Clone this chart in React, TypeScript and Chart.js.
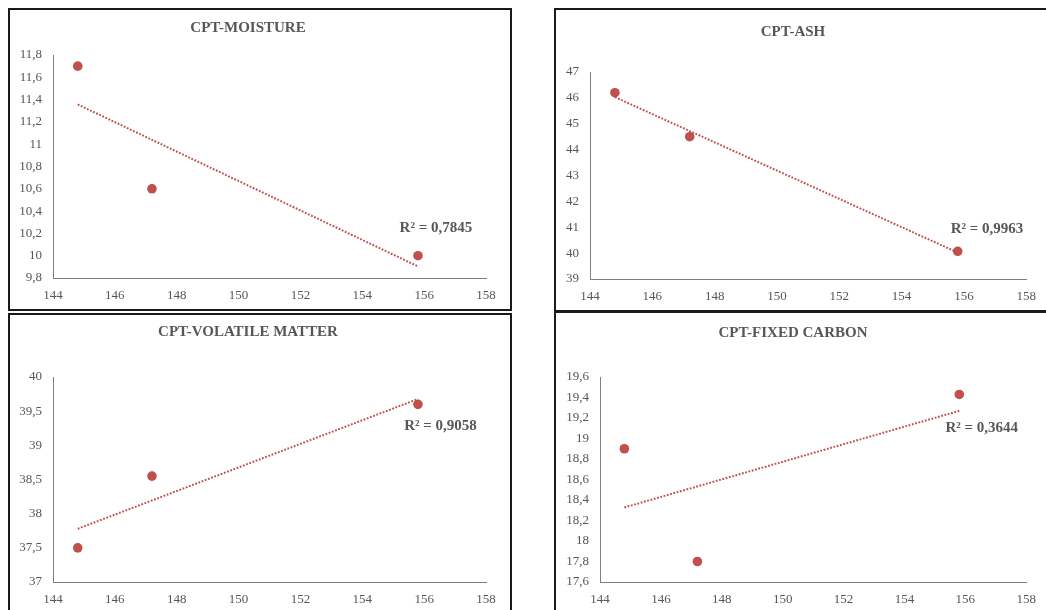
import React, { useEffect, useRef } from "react";
import { Chart, registerables } from "chart.js";

Chart.register(...registerables);

// ---- Data ----
const cptValues = [144.8, 147.2, 155.8];
const moistureValues = [11.7, 10.6, 10.0];
const ashValues = [46.2, 44.5, 40.07];
const volatileValues = [37.5, 38.55, 39.6];
const fixedCarbonValues = [18.9, 17.8, 19.43];

const xTicks = [144, 146, 148, 150, 152, 154, 156, 158];
const moistureYTicks = [9.8, 10, 10.2, 10.4, 10.6, 10.8, 11, 11.2, 11.4, 11.6, 11.8];
const ashYTicks = [39, 40, 41, 42, 43, 44, 45, 46, 47];
const volatileYTicks = [37, 37.5, 38, 38.5, 39, 39.5, 40];
const fixedCarbonYTicks = [17.6, 17.8, 18, 18.2, 18.4, 18.6, 18.8, 19, 19.2, 19.4, 19.6];

const titles = ["CPT-MOISTURE", "CPT-ASH", "CPT-VOLATILE MATTER", "CPT-FIXED CARBON"];
const r2Labels = ["R² = 0,7845", "R² = 0,9963", "R² = 0,9058", "R² = 0,3644"];

// ---- Style ----
const RED = "#c0504d";
const TEXT = "#575757";
const AXIS = "#808080";
const FONT = "'Liberation Serif', 'Times New Roman', serif";

function fmt(v: number): string {
  const s = String(Math.round(v * 1000) / 1000);
  return s.replace(".", ",");
}

function linearFit(xs: number[], ys: number[]) {
  const n = xs.length;
  const mx = xs.reduce((a, b) => a + b, 0) / n;
  const my = ys.reduce((a, b) => a + b, 0) / n;
  let sxy = 0;
  let sxx = 0;
  for (let i = 0; i < n; i++) {
    sxy += (xs[i] - mx) * (ys[i] - my);
    sxx += (xs[i] - mx) * (xs[i] - mx);
  }
  const slope = sxy / sxx;
  const icpt = my - slope * mx;
  const x0 = Math.min(...xs);
  const x1 = Math.max(...xs);
  return [
    { x: x0, y: icpt + slope * x0 },
    { x: x1, y: icpt + slope * x1 },
  ];
}

type PanelSpec = {
  title: string;
  r2: string;
  ys: number[];
  yTicks: number[];
  left: number;
  top: number;
  width: number;
  height: number;
  padLeft: number;
  padRight: number;
  xAxisHeight: number;
  titleTop: number;
  titleBottom: number;
  labelAt: { x: number; y: number };
};

const panels: PanelSpec[] = [
  {
    title: titles[0], r2: r2Labels[0], ys: moistureValues, yTicks: moistureYTicks,
    left: 10, top: 10, width: 500, height: 299,
    padLeft: 43, padRight: 24, xAxisHeight: 31, titleTop: 10, titleBottom: 18.2,
    labelAt: { x: 156.38, y: 10.25 },
  },
  {
    title: titles[1], r2: r2Labels[1], ys: ashValues, yTicks: ashYTicks,
    left: 556, top: 10, width: 490, height: 299,
    padLeft: 34, padRight: 16, xAxisHeight: 30, titleTop: 13.6, titleBottom: 31.6,
    labelAt: { x: 156.74, y: 40.93 },
  },
  {
    title: titles[2], r2: r2Labels[2], ys: volatileValues, yTicks: volatileYTicks,
    left: 10, top: 315, width: 500, height: 295,
    padLeft: 43, padRight: 24, xAxisHeight: 28, titleTop: 8.6, titleBottom: 36.6,
    labelAt: { x: 156.53, y: 39.28 },
  },
  {
    title: titles[3], r2: r2Labels[3], ys: fixedCarbonValues, yTicks: fixedCarbonYTicks,
    left: 556, top: 314, width: 490, height: 296,
    padLeft: 44, padRight: 16, xAxisHeight: 28, titleTop: 10.6, titleBottom: 35.6,
    labelAt: { x: 156.54, y: 19.1 },
  },
];

const r2Plugin = {
  id: "r2label",
  afterDraw(chart: any, _args: any, opts: any) {
    const { ctx, scales } = chart;
    const px = scales.x.getPixelForValue(opts.x);
    const py = scales.y.getPixelForValue(opts.y);
    ctx.save();
    ctx.font = `bold 15px ${FONT}`;
    ctx.fillStyle = TEXT;
    ctx.textAlign = "center";
    ctx.textBaseline = "middle";
    ctx.fillText(opts.text, px, py);
    ctx.restore();
  },
};

function Panel({ spec }: { spec: PanelSpec }) {
  const ref = useRef<HTMLCanvasElement | null>(null);
  useEffect(() => {
    if (!ref.current) return;
    const points = cptValues.map((x, i) => ({ x, y: spec.ys[i] }));
    const trend = linearFit(cptValues, spec.ys);
    const yMin = spec.yTicks[0];
    const yMax = spec.yTicks[spec.yTicks.length - 1];
    const chart = new Chart(ref.current, {
      type: "scatter",
      data: {
        datasets: [
          {
            data: points,
            backgroundColor: RED,
            borderColor: RED,
            pointRadius: 4.8,
            pointHoverRadius: 4.8,
            borderWidth: 0,
            order: 1,
          },
          {
            type: "line",
            data: trend,
            borderColor: RED,
            borderWidth: 2,
            borderDash: [1.8, 1.6],
            pointRadius: 0,
            fill: false,
            order: 2,
          } as any,
        ],
      },
      options: {
        animation: false,
        responsive: false,
        maintainAspectRatio: false,
        layout: { padding: { left: 0, right: spec.padRight, top: 0, bottom: 0 } },
        plugins: {
          legend: { display: false },
          tooltip: { enabled: false },
          title: {
            display: true,
            text: spec.title,
            color: TEXT,
            font: { family: FONT, size: 15, weight: "bold", lineHeight: 1.12 },
            padding: { top: spec.titleTop, bottom: spec.titleBottom },
          },
          r2label: { text: spec.r2, x: spec.labelAt.x, y: spec.labelAt.y },
        } as any,
        scales: {
          x: {
            type: "linear",
            min: 144,
            max: 158,
            grid: { display: false, drawTicks: false },
            border: { display: true, color: AXIS, width: 1 },
            afterBuildTicks: (scale: any) => {
              scale.ticks = xTicks.map((v) => ({ value: v }));
            },
            afterFit: (scale: any) => {
              scale.height = spec.xAxisHeight;
            },
            ticks: {
              color: TEXT,
              font: { family: FONT, size: 13 },
              padding: 10,
              maxRotation: 0,
              autoSkip: false,
              callback: (v: any) => fmt(Number(v)),
            },
          },
          y: {
            type: "linear",
            min: yMin,
            max: yMax,
            grid: { display: false, drawTicks: false },
            border: { display: true, color: AXIS, width: 1 },
            afterBuildTicks: (scale: any) => {
              scale.ticks = spec.yTicks.map((v) => ({ value: v }));
            },
            afterFit: (scale: any) => {
              scale.width = spec.padLeft;
            },
            ticks: {
              color: TEXT,
              font: { family: FONT, size: 13 },
              padding: 11,
              autoSkip: false,
              callback: (v: any) => fmt(Number(v)),
            },
          },
        },
      } as any,
      plugins: [r2Plugin],
    });
    return () => chart.destroy();
  }, [spec]);

  return (
    <canvas
      ref={ref}
      width={spec.width}
      height={spec.height}
      style={{
        position: "absolute",
        left: spec.left,
        top: spec.top,
        width: spec.width,
        height: spec.height,
        display: "block",
      }}
    />
  );
}

const boxes = [
  { left: 8, top: 8, width: 504, height: 303, w: 2 },
  { left: 554, top: 8, width: 500, height: 304, w: 2 },
  { left: 8, top: 313, width: 504, height: 310, w: 2 },
  { left: 554, top: 311, width: 500, height: 310, w: 2 },
];

export default function App() {
  return (
    <div
      style={{
        position: "absolute",
        left: 0,
        top: 0,
        width: 1046,
        height: 610,
        overflow: "hidden",
        background: "#ffffff",
      }}
    >
      {boxes.map((b, i) => (
        <div
          key={"b" + i}
          style={{
            position: "absolute",
            left: b.left,
            top: b.top,
            width: b.width - 2 * b.w,
            height: b.height - 2 * b.w,
            border: `${b.w}px solid #1a1a1a`,
            boxSizing: "content-box",
          }}
        />
      ))}
      {panels.map((p, i) => (
        <Panel key={i} spec={p} />
      ))}
    </div>
  );
}
